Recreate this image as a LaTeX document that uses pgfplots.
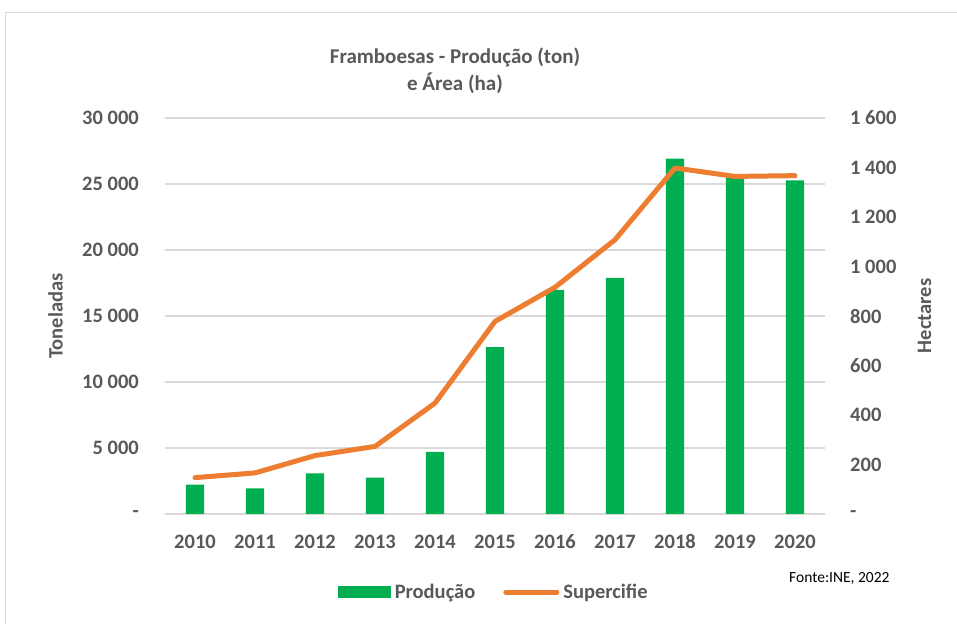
\documentclass[border=0pt]{standalone}
\usepackage{pgfplots}
\pgfplotsset{compat=1.18}
\usepackage{fontspec}
\setmainfont{Carlito}
\definecolor{bargreen}{HTML}{00B050}
\definecolor{lineorange}{HTML}{ED7D31}
\definecolor{txtgray}{HTML}{595959}
\definecolor{gridgray}{HTML}{D9D9D9}
\pgfplotstableread{
x prod area
0 2220 147
1 1940 166
2 3080 236
3 2750 273
4 4700 448
5 12650 778
6 16970 916
7 17880 1108
8 26920 1398
9 25500 1364
10 25270 1367
}\datatable
\begin{document}
\begin{tikzpicture}
\path[use as bounding box] (0pt,0pt) rectangle (957pt,623pt);
\draw[gridgray, line width=1pt] (5pt,-5pt) -- (5pt,610pt) -- (970pt,610pt);
\pgfplotsset{
  common/.style={
    at={(165pt,109pt)}, anchor=south west,
    width=660pt, height=396pt, scale only axis,
    xmin=-0.5, xmax=10.5,
    axis line style={draw=none},
    major tick length=0pt,
    tick style={draw=none},
    scaled y ticks=false,
    ticklabel style={font=\fontsize{20.5}{24}\selectfont\bfseries, text=txtgray, inner sep=0pt},
  }
}
\begin{axis}[common,
  ybar, bar width=0.305,
  ymin=0, ymax=30000,
  ytick={0,5000,10000,15000,20000,25000,30000},
  yticklabels={{-\hspace{9pt}},{5 000},{10 000},{15 000},{20 000},{25 000},{30 000}},
  yticklabel style={anchor=east, xshift=-26pt},
  xtick={0,...,10},
  xticklabels={2010,2011,2012,2013,2014,2015,2016,2017,2018,2019,2020},
  xticklabel style={anchor=base, yshift=-34.5pt},
  ymajorgrids, grid style={gridgray, line width=1.5pt},
]
\addplot[fill=bargreen, draw=none] table[x=x, y=prod] {\datatable};
\end{axis}
\begin{axis}[common,
  ymin=0, ymax=1600,
  axis y line*=right, axis x line=none,
  ytick={0,200,400,600,800,1000,1200,1400,1600},
  yticklabels={-,200,400,600,800,{1 000},{1 200},{1 400},{1 600}},
  yticklabel style={anchor=west, xshift=25pt},
  legend columns=2,
  legend style={at={(0.5,-0.197)}, anchor=center, draw=none, fill=none,
    font=\fontsize{20.5}{24}\selectfont\bfseries, text=txtgray,
    /tikz/every even column/.append style={column sep=24pt},
    nodes={inner sep=4pt}},
]
\addlegendimage{legend image code/.code={\fill[bargreen] (0pt,-5.5pt) rectangle (52pt,5.5pt);}}
\addlegendentry{Produção}
\addplot[lineorange, line width=5pt, line cap=round, line join=round,
  legend image code/.code={\draw[lineorange, line width=5pt, line cap=round] (2.5pt,0pt) -- (53.5pt,0pt);}]
  table[x=x, y=area] {\datatable};
\addlegendentry{Supercifie}
\end{axis}
\node[font=\fontsize{21}{27}\selectfont\bfseries, text=txtgray, align=center] at (455pt,552.5pt) {Framboesas - Produção (ton)\\e Área (ha)};
\node[font=\fontsize{20.5}{24}\selectfont\bfseries, text=txtgray, rotate=90] at (55.5pt,307pt) {Toneladas};
\node[font=\fontsize{20.5}{24}\selectfont\bfseries, text=txtgray, rotate=90] at (924.5pt,307pt) {Hectares};
\node[font=\fontsize{15.5}{18}\selectfont, text=black, anchor=east] at (893pt,45pt) {Fonte:INE, 2022};
\end{tikzpicture}
\end{document}
